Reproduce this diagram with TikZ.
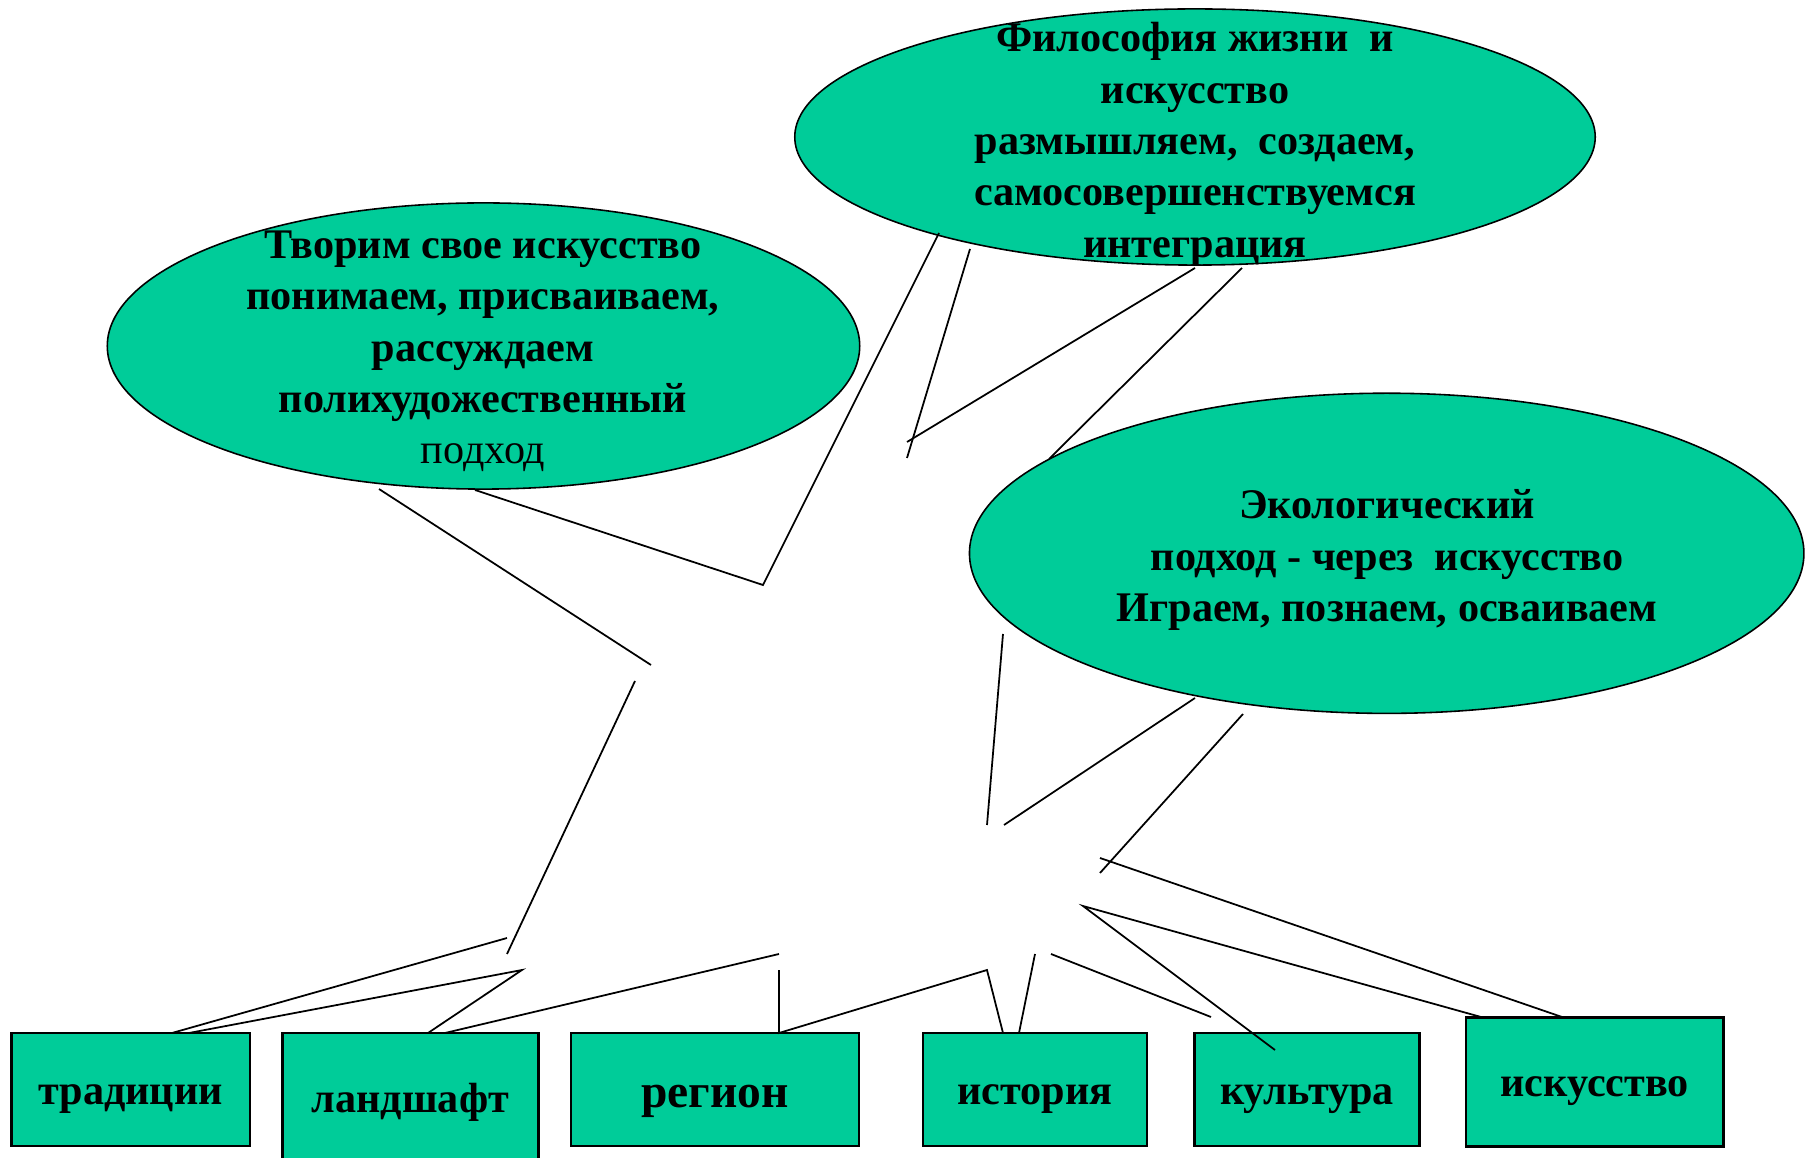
\documentclass[tikz,border=0pt]{standalone}
\usepackage{fontspec}
\setmainfont{Liberation Serif}
\usetikzlibrary{shapes}

\definecolor{leaf}{RGB}{0,204,153}

\begin{document}
\begin{tikzpicture}[x=0.01cm, y=-0.01cm,
	bubble/.style={ellipse, draw, line width=0.45pt, fill=leaf, inner sep=0pt},
	bubbletext/.style={align=center, font=\fontsize{12}{14.6}\selectfont\bfseries},
	box/.style={rectangle, draw, line width=0.75pt, fill=leaf, inner sep=0pt, minimum height=1.13cm, text height=8.4pt, text depth=0pt, font=\fontsize{12}{14.6}\selectfont\bfseries},
	branch/.style={line width=0.5pt}]
	\useasboundingbox (0,0) rectangle (1808,1158);
	\clip (0,0) rectangle (1808,1158);

	\node[bubble, minimum width=8cm, minimum height=2.56cm] (philo) at (1195,137) {};
	\node[bubble, minimum width=7.52cm, minimum height=2.86cm] (own) at (483.5,346) {};
	\node[bubble, minimum width=8.34cm, minimum height=3.2cm] (eco) at (1386.7,553.3) {};

	\node[bubbletext] (philotext) at (1195,144.5) {Философия жизни\ \ и\\ искусство\\ размышляем,\ \ создаем,\\ самосовершенствуемся\\ интеграция};
	\node[bubbletext] (owntext) at (483,351.5) {Творим свое искусство\\ понимаем, присваиваем,\\ рассуждаем\\ полихудожественный\\ {\mdseries подход}};
	\node[bubbletext] (ecotext) at (1387,560) {Экологический\\ подход - через\ \ искусство\\ Играем, познаем, осваиваем};

	\node[box, minimum width=2.385cm] (trad) at (130.7,1089.5) {традиции};
	\node[box, minimum width=2.56cm, minimum height=1.37cm, text height=6.4pt] (land) at (410.4,1101.5) {ландшафт};
	\node[box, minimum width=2.88cm, text height=10pt, font=\fontsize{13.5}{16}\selectfont\bfseries] (region) at (715,1089.5) {регион};
	\node[box, minimum width=2.24cm] (hist) at (1035,1089.5) {история};
	\node[box, minimum width=2.245cm] (cult) at (1307,1089.5) {культура};
	\node[box, minimum width=2.575cm, minimum height=1.283cm] (arts) at (1594.7,1082) {искусство};

	\draw[branch] (939,233) -- (763,585) -- (475,490);
	\draw[branch] (970,249) -- (907,458);
	\draw[branch] (1195,268) -- (907,442);
	\draw[branch] (1242,268) -- (1049,459);
	\draw[branch] (379,489) -- (651,665);
	\draw[branch] (635,681) -- (507,954);
	\draw[branch] (1003,634) -- (987,825);
	\draw[branch] (1195,698) -- (1004,825);
	\draw[branch] (1243,714) -- (1100,873);

	\draw[branch] (507,938) -- (172,1033);
	\draw[branch] (189,1033) -- (522,970) -- (428,1033);
	\draw[branch] (445,1033) -- (779,954);
	\draw[branch] (779,970) -- (779,1033) -- (987,970) -- (1003,1033);
	\draw[branch] (1019,1033) -- (1035,954);
	\draw[branch] (1051,954) -- (1211,1017);
	\draw[branch] (1275,1050) -- (1083,906) -- (1481,1017);
	\draw[branch] (1100,858) -- (1562,1017);
\end{tikzpicture}
\end{document}
